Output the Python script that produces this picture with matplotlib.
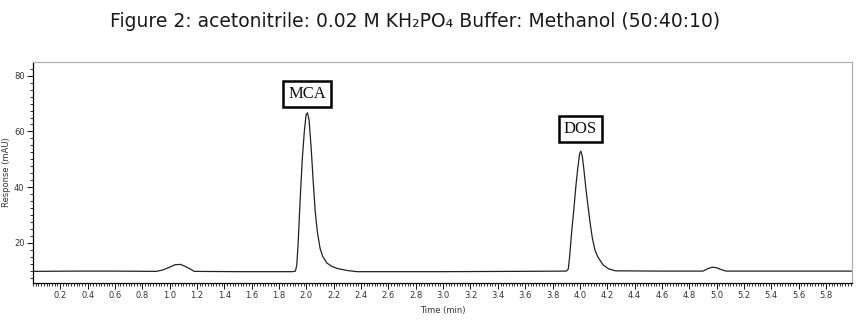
import matplotlib
matplotlib.use("Agg")
import matplotlib.pyplot as plt
from matplotlib.ticker import MultipleLocator, FixedLocator

# Chromatogram trace (time in min, response in mAU)
time_min = [0.00, 0.30, 0.60, 0.90, 0.95, 1.00, 1.04, 1.08, 1.11, 1.15, 1.18,
            1.50, 1.90, 1.92, 1.93, 1.94, 1.955, 1.97, 1.985, 1.998, 2.008,
            2.02, 2.035, 2.05, 2.065, 2.08, 2.10, 2.12, 2.15, 2.19, 2.23, 2.30,
            2.37, 3.00, 3.50, 3.90, 3.915, 3.925, 3.94, 3.955, 3.97, 3.985,
            3.998, 4.007, 4.018, 4.03, 4.045, 4.06, 4.075, 4.09, 4.11, 4.13,
            4.17, 4.21, 4.26, 4.60, 4.90, 4.94, 4.97, 5.00, 5.03, 5.07, 5.50, 5.99]
response_mau = [9.7, 9.8, 9.8, 9.7, 10.2, 11.2, 12.1, 12.2, 11.6, 10.6, 9.7,
                9.6, 9.6, 9.8, 12.0, 20.0, 36.0, 50.0, 60.0, 66.0, 66.7,
                64.0, 54.0, 42.0, 31.0, 24.0, 18.0, 15.0, 12.7, 11.4, 10.7, 10.0,
                9.6, 9.6, 9.7, 9.8, 10.5, 15.0, 24.0, 31.5, 40.0, 47.0,
                52.0, 52.9, 51.0, 46.0, 39.0, 33.0, 27.0, 22.0, 17.4, 15.0,
                12.0, 10.6, 9.9, 9.8, 9.8, 10.8, 11.2, 11.0, 10.4, 9.8, 9.8, 9.8]

peak_labels = ["MCA", "DOS"]
peak_label_time = [2.004, 4.004]
peak_label_resp = [73.6, 60.8]

x_tick_values = [round(0.2 * i, 1) for i in range(1, 30)]
x_tick_labels = [f"{v:.1f}" for v in x_tick_values]
y_tick_values = [20, 40, 60, 80]

title = "Figure 2: acetonitrile: 0.02 M KH\u2082PO\u2084 Buffer: Methanol (50:40:10)"

fig = plt.figure(figsize=(8.65, 3.27), dpi=100)
ax = fig.add_axes([0.038, 0.1346, 0.947, 0.6754])

ax.plot(time_min, response_mau, color="#222222", lw=0.9)

ax.set_xlim(0, 5.99)
ax.set_ylim(5.53, 84.9)

ax.xaxis.set_major_locator(FixedLocator(x_tick_values))
ax.set_xticklabels(x_tick_labels)
ax.xaxis.set_minor_locator(MultipleLocator(0.02))
ax.yaxis.set_major_locator(FixedLocator(y_tick_values))
ax.yaxis.set_minor_locator(MultipleLocator(2.5))

ax.tick_params(axis="both", which="major", labelsize=6, length=4, width=0.7,
               colors="#111111", labelcolor="#333333", pad=2)
ax.tick_params(axis="both", which="minor", length=2.2, width=0.6, colors="#111111")

for s in ["top", "right"]:
    ax.spines[s].set_color("#b0b0b0")
    ax.spines[s].set_linewidth(0.9)
for s in ["left", "bottom"]:
    ax.spines[s].set_color("#000000")
    ax.spines[s].set_linewidth(0.9)

ax.set_xlabel("Time (min)", fontsize=6, color="#333333", labelpad=4)
ax.set_ylabel("Response (mAU)", fontsize=6, color="#333333", labelpad=2)

for lab, tx, ty in zip(peak_labels, peak_label_time, peak_label_resp):
    ax.text(tx, ty, lab, ha="center", va="center", fontsize=12,
            family="Liberation Serif", color="#111111",
            bbox=dict(boxstyle="square,pad=0.3", fc="white", ec="black", lw=1.8))

fig.text(0.48, 0.933, title, ha="center", va="center", fontsize=13.5,
         family="DejaVu Sans", color="#1a1a1a")

fig.savefig("out.png", dpi=100)
